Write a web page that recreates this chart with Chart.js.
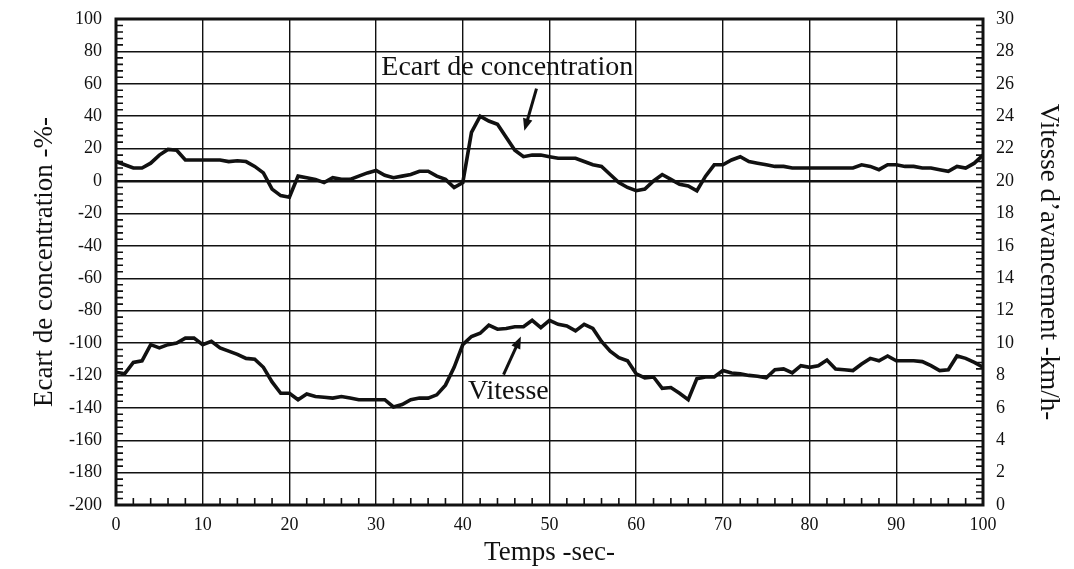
<!DOCTYPE html>
<html>
<head>
<meta charset="utf-8">
<script src="https://cdn.jsdelivr.net/npm/chart.js@4"></script>
<style>
    html, body { margin: 0; padding: 0; background: #fff; }
    #wrap { width: 1074px; height: 569px; position: relative; }
</style>
</head>
<body>
<div id="wrap"><canvas id="essaiChart"></canvas></div>
<script>
// Temps en secondes (un point par seconde)
const temps = [
    0, 1, 2, 3, 4, 5, 6, 7, 8, 9, 10, 11, 12, 13, 14, 15, 16, 17, 18, 19, 20,
    21, 22, 23, 24, 25, 26, 27, 28, 29, 30, 31, 32, 33, 34, 35, 36, 37, 38, 39, 40,
    41, 42, 43, 44, 45, 46, 47, 48, 49, 50, 51, 52, 53, 54, 55, 56, 57, 58, 59, 60,
    61, 62, 63, 64, 65, 66, 67, 68, 69, 70, 71, 72, 73, 74, 75, 76, 77, 78, 79, 80,
    81, 82, 83, 84, 85, 86, 87, 88, 89, 90, 91, 92, 93, 94, 95, 96, 97, 98, 99, 100
];

// Ecart de concentration (%) - axe de gauche
const ecartConcentration = [
    12, 10, 8, 8, 11, 16, 19.5, 19, 13, 13, 13, 13, 13, 12, 12.5, 12, 9, 5, -5, -9, -10,
    3, 2, 1, -1, 2, 1, 1, 3, 5, 6.5, 3.5, 2, 3, 4, 6, 6, 3, 1, -4, -1,
    30, 40, 37, 35, 27, 19, 15, 16, 16, 15, 14, 14, 14, 12, 10, 9, 4, -1, -4, -6,
    -5, 0, 4, 1, -2, -3, -6, 3, 10, 10, 13, 15, 12, 11, 10, 9, 9, 8, 8, 8,
    8, 8, 8, 8, 8, 10, 9, 7, 10, 10, 9, 9, 8, 8, 7, 6, 9, 8, 11, 16
];

// Vitesse d'avancement (km/h) - axe de droite
const vitesse = [
    8.2, 8.1, 8.8, 8.9, 9.9, 9.7, 9.9, 10.0, 10.3, 10.3, 9.9, 10.1, 9.7, 9.5, 9.3, 9.05, 9.0, 8.5, 7.6, 6.9, 6.9,
    6.5, 6.85, 6.7, 6.65, 6.6, 6.7, 6.6, 6.5, 6.5, 6.5, 6.5, 6.05, 6.2, 6.5, 6.6, 6.6, 6.8, 7.4, 8.5, 9.9,
    10.4, 10.6, 11.1, 10.85, 10.9, 11.0, 11.0, 11.4, 10.95, 11.4, 11.15, 11.05, 10.75, 11.15, 10.9, 10.1, 9.5, 9.1, 8.9, 8.1,
    7.85, 7.9, 7.2, 7.25, 6.9, 6.5, 7.8, 7.9, 7.9, 8.3, 8.15, 8.1, 8.0, 7.95, 7.85, 8.35, 8.4, 8.15, 8.6, 8.5,
    8.6, 8.95, 8.4, 8.35, 8.3, 8.7, 9.05, 8.9, 9.2, 8.9, 8.9, 8.9, 8.85, 8.6, 8.3, 8.35, 9.2, 9.05, 8.8, 8.5
];

// Graduations
const tempsTicks = [0, 10, 20, 30, 40, 50, 60, 70, 80, 90, 100];
const ecartTicks = [-200, -180, -160, -140, -120, -100, -80, -60, -40, -20, 0, 20, 40, 60, 80, 100];
const vitesseTicks = [0, 2, 4, 6, 8, 10, 12, 14, 16, 18, 20, 22, 24, 26, 28, 30];

const FONT = "'Liberation Serif', 'Times New Roman', serif";
const INK = '#111';

// Annotations placed in data units
const noteConcentration = { text: 'Ecart de concentration', x: 30.6, y: 70, from: { x: 48.5, y: 57 }, to: { x: 47.1, y: 31 } };
const noteVitesse = { text: 'Vitesse', x: 40.6, y: 7.0, from: { x: 44.7, y: 8.05 }, to: { x: 46.7, y: 10.4 } };

function drawArrow(ctx, x1, y1, x2, y2) {
    const ang = Math.atan2(y2 - y1, x2 - x1);
    const head = 13;
    ctx.beginPath();
    ctx.moveTo(x1, y1);
    ctx.lineTo(x2 - Math.cos(ang) * head * 0.7, y2 - Math.sin(ang) * head * 0.7);
    ctx.stroke();
    ctx.beginPath();
    ctx.moveTo(x2, y2);
    ctx.lineTo(x2 - head * Math.cos(ang - 0.38), y2 - head * Math.sin(ang - 0.38));
    ctx.lineTo(x2 - head * Math.cos(ang + 0.38), y2 - head * Math.sin(ang + 0.38));
    ctx.closePath();
    ctx.fill();
}

// Frame, minor ticks and annotations
const decorPlugin = {
    id: 'decor',
    afterDatasetsDraw(chart) {
        const { ctx, chartArea: a, scales } = chart;
        const x = scales.x, y = scales.y, y2 = scales.y2;
        ctx.save();
        ctx.strokeStyle = INK;
        ctx.fillStyle = INK;

        // minor ticks
        ctx.lineWidth = 1.6;
        ctx.beginPath();
        for (let v = 0; v <= 100; v += 2) {
            if (v % 10 === 0) continue;
            const px = x.getPixelForValue(v);
            ctx.moveTo(px, a.bottom);
            ctx.lineTo(px, a.bottom - 7);
        }
        for (let v = -200; v <= 100; v += 4) {
            if (v % 20 === 0) continue;
            const py = y.getPixelForValue(v);
            ctx.moveTo(a.left, py);
            ctx.lineTo(a.left + 7, py);
        }
        for (let i = 0; i <= 75; i++) {
            if (i % 5 === 0) continue;
            const py = y2.getPixelForValue(i * 0.4);
            ctx.moveTo(a.right, py);
            ctx.lineTo(a.right - 7, py);
        }
        ctx.stroke();

        // frame
        ctx.lineWidth = 3;
        ctx.strokeRect(a.left, a.top, a.right - a.left, a.bottom - a.top);

        // annotations
        ctx.font = '28px ' + FONT;
        ctx.textAlign = 'left';
        ctx.textBaseline = 'middle';
        ctx.fillText(noteConcentration.text, x.getPixelForValue(noteConcentration.x), y.getPixelForValue(noteConcentration.y));
        ctx.fillText(noteVitesse.text, x.getPixelForValue(noteVitesse.x), y2.getPixelForValue(noteVitesse.y));

        ctx.lineWidth = 3;
        drawArrow(ctx,
            x.getPixelForValue(noteConcentration.from.x), y.getPixelForValue(noteConcentration.from.y),
            x.getPixelForValue(noteConcentration.to.x), y.getPixelForValue(noteConcentration.to.y));
        drawArrow(ctx,
            x.getPixelForValue(noteVitesse.from.x), y2.getPixelForValue(noteVitesse.from.y),
            x.getPixelForValue(noteVitesse.to.x), y2.getPixelForValue(noteVitesse.to.y));
        ctx.restore();
    }
};

// Fix the axis widths and drop the label overhang so the plot box lands where the original has it
function fitVertical(width) {
    return s => {
        s.width = width;
        s.paddingTop = 0;
        s.paddingBottom = 0;
    };
}

function initializeChart() {
    const ctx = document.getElementById('essaiChart');
    if (!ctx) return;

    const config = {
        type: 'line',
        data: {
            datasets: [{
                label: 'Ecart de concentration',
                data: temps.map((t, i) => ({ x: t, y: ecartConcentration[i] })),
                yAxisID: 'y',
                borderColor: INK,
                borderWidth: 3.6,
                pointRadius: 0,
                tension: 0
            }, {
                label: 'Vitesse',
                data: temps.map((t, i) => ({ x: t, y: vitesse[i] })),
                yAxisID: 'y2',
                borderColor: INK,
                borderWidth: 3.6,
                pointRadius: 0,
                tension: 0
            }]
        },
        options: {
            responsive: true,
            maintainAspectRatio: false,
            animation: false,
            layout: {
                padding: { top: 19, right: 0, bottom: 0, left: 0 }
            },
            plugins: {
                legend: { display: false },
                tooltip: { enabled: false }
            },
            scales: {
                x: {
                    type: 'linear',
                    min: 0,
                    max: 100,
                    afterBuildTicks: s => { s.ticks = tempsTicks.map(v => ({ value: v })); },
                    afterFit: s => { s.height = 64; },
                    grid: { color: INK, lineWidth: 1.4, drawTicks: false },
                    border: { display: false },
                    ticks: {
                        color: INK,
                        maxRotation: 0,
                        padding: 9,
                        font: { family: FONT, size: 18 }
                    },
                    title: {
                        display: true,
                        text: 'Temps -sec-',
                        color: INK,
                        font: { family: FONT, size: 27 },
                        padding: { top: 0, bottom: 0 }
                    }
                },
                y: {
                    type: 'linear',
                    position: 'left',
                    min: -200,
                    max: 100,
                    afterBuildTicks: s => { s.ticks = ecartTicks.map(v => ({ value: v })); },
                    afterFit: fitVertical(116),
                    grid: {
                        color: INK,
                        lineWidth: c => (c.tick && c.tick.value === 0 ? 2.6 : 1.4),
                        drawTicks: false
                    },
                    border: { display: false },
                    ticks: {
                        color: INK,
                        padding: 14,
                        font: { family: FONT, size: 18 }
                    },
                    title: {
                        display: true,
                        text: 'Ecart de concentration -%-',
                        color: INK,
                        font: { family: FONT, size: 27 },
                        padding: { top: 29, bottom: 0 }
                    }
                },
                y2: {
                    type: 'linear',
                    position: 'right',
                    min: 0,
                    max: 30,
                    afterBuildTicks: s => { s.ticks = vitesseTicks.map(v => ({ value: v })); },
                    afterFit: fitVertical(91),
                    grid: { display: false, drawTicks: false },
                    border: { display: false },
                    ticks: {
                        color: INK,
                        padding: 13,
                        font: { family: FONT, size: 18 }
                    },
                    title: {
                        display: true,
                        text: 'Vitesse d\u2019avancement -km/h-',
                        color: INK,
                        font: { family: FONT, size: 27 },
                        padding: { top: 10, bottom: 0 }
                    }
                }
            }
        },
        plugins: [decorPlugin]
    };

    new Chart(ctx, config);
}

document.addEventListener('DOMContentLoaded', initializeChart);
</script>
</body>
</html>
